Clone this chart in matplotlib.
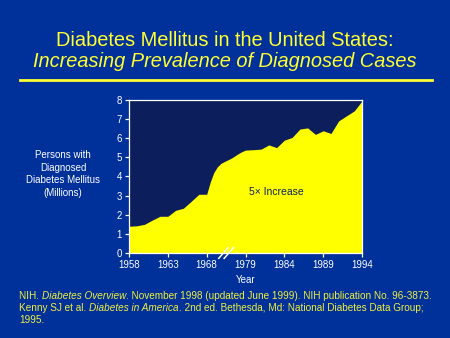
import matplotlib
matplotlib.use("Agg")
import matplotlib.pyplot as plt
import matplotlib.transforms as mtransforms

plt.rcParams['font.family'] = ['Liberation Sans', 'DejaVu Sans']

# Cores
COR_FUNDO = "#00309a"
COR_PLOT = "#0c1f5c"
COR_AREA = "#ffff00"
COR_TITULO = "#ffff33"
COR_CITA = "#f0f040"

# Dados (milhões de pessoas com diabetes diagnosticado)
anos = list(range(1958, 1995))
casos = [1.40, 1.42, 1.50, 1.72, 1.92, 1.92, 2.23, 2.34, 2.70, 3.07, 3.07,   # 1958-1968
         3.70, 4.20, 4.50, 4.68, 4.78, 4.87, 4.96, 5.08, 5.20, 5.30,         # 1969-1978
         5.38, 5.40, 5.43, 5.65, 5.51, 5.90, 6.04, 6.48, 6.54, 6.20, 6.39,   # 1979-1989
         6.25, 6.91, 7.17, 7.43, 7.95]                                        # 1990-1994
anos_rotulo = [1958, 1963, 1968, 1979, 1984, 1989, 1994]
y_ticks = list(range(0, 9))


def posicao(ano):
    # eixo comprimido entre 1968 e 1979
    if ano <= 1968:
        return ano - 1958
    if ano >= 1979:
        return ano - 1964
    return 10 + (ano - 1968) * 5 / 11


x = [posicao(a) for a in anos]

fig = plt.figure(figsize=(4.5, 3.38), dpi=100, facecolor=COR_FUNDO)
ax = fig.add_axes([0.2867, 0.2515, 0.5178, 0.4527])
ax.set_facecolor(COR_PLOT)
ax.fill_between(x, casos, 0, color=COR_AREA, linewidth=0)
ax.set_xlim(0, 30)
ax.set_ylim(0, 8)

ax.set_xticks([posicao(a) for a in anos_rotulo])
ax.set_xticklabels([str(a) for a in anos_rotulo])
ax.set_yticks(y_ticks)
for s in ax.spines.values():
    s.set_color("white")
    s.set_linewidth(0.9)
ax.tick_params(colors="white", labelsize=7, length=3, width=0.9, pad=2)

ax.set_xlabel("Year", color="white", fontsize=7, labelpad=4)
fig.text(0.14, 0.485, "Persons with\nDiagnosed\nDiabetes Mellitus\n(Millions)",
         ha="center", va="center", color="white", fontsize=7, linespacing=1.35)

ax.text(19.0, 3.2, "5× Increase", color=COR_PLOT, fontsize=7.5, ha="center", va="center")

# marca de quebra "//"
quebra = (posicao(1968) + posicao(1979)) / 2
trans = mtransforms.blended_transform_factory(ax.transData, ax.transAxes)
for dx in (-0.35, 0.35):
    ax.plot([quebra + dx - 0.6, quebra + dx + 0.6], [-0.035, 0.035], color="white",
            lw=1.1, transform=trans, clip_on=False, zorder=5)

# Título
fig.text(0.5, (338 - 45.7) / 338, "Diabetes Mellitus in the United States:",
         ha="center", va="baseline", color=COR_TITULO, fontsize=14.4)
fig.text(0.5, (338 - 66.7) / 338, "Increasing Prevalence of Diagnosed Cases",
         ha="center", va="baseline", color=COR_TITULO, fontsize=14.4, style="italic")
fig.add_artist(plt.Line2D([20 / 450, 432 / 450], [(338 - 80) / 338] * 2,
                          color=COR_TITULO, lw=2))

# Citações
linhas = [
    [("NIH. ", "normal"), ("Diabetes Overview", "italic"),
     (". November 1998 (updated June 1999). NIH publication No. 96-3873.", "normal")],
    [("Kenny SJ et al. ", "normal"), ("Diabetes in America", "italic"),
     (". 2nd ed. Bethesda, Md: National Diabetes Data Group;", "normal")],
    [("1995.", "normal")],
]
renderer = fig.canvas.get_renderer()
base_y = [299.3, 311.0, 322.7]
for linha, by in zip(linhas, base_y):
    px = 19.3
    for txt, estilo in linha:
        t = fig.text(px / 450, (338 - by) / 338, txt, color=COR_CITA, fontsize=7.2,
                     style=estilo, ha="left", va="baseline")
        px += t.get_window_extent(renderer).width

fig.savefig("out.png", dpi=100, facecolor=COR_FUNDO)
